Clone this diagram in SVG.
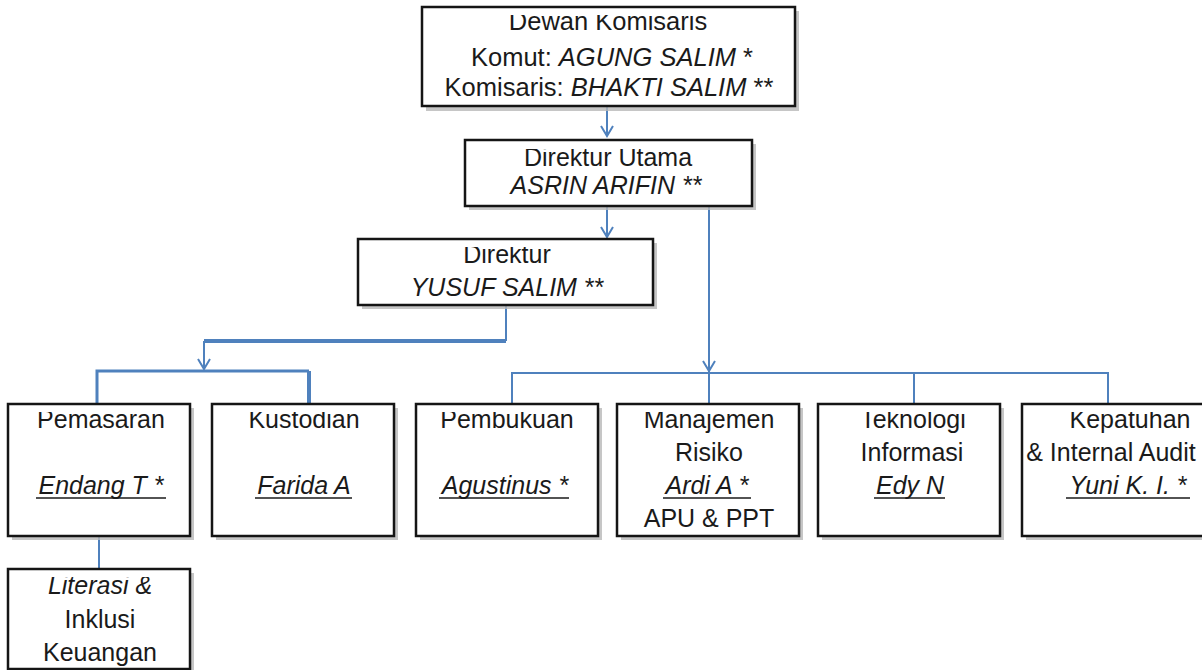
<svg xmlns="http://www.w3.org/2000/svg" width="1202" height="670" viewBox="0 0 1202 670">
<style>
  .box{fill:#fff;stroke:#151515;stroke-width:2.5}
  .sh{fill:#b8b8b8;opacity:.8}
  text{font-family:"Liberation Sans",Arial,sans-serif;fill:#1a1a1a;text-anchor:middle}
  .t25{font-size:25px}
  .t26{font-size:25.5px}
  .it{font-style:italic}
  .u{stroke:#1a1a1a;stroke-width:1.6}
  .c{fill:none;stroke:#4f81bd;stroke-width:2}
  .ck{fill:none;stroke:#4f81bd;stroke-width:4}
</style>
<defs>
  <marker id="ah" markerWidth="14" markerHeight="14" refX="12" refY="7" orient="auto" markerUnits="userSpaceOnUse" viewBox="0 0 14 14">
    <path d="M2,1 L12,7 L2,13" fill="none" stroke="#4f81bd" stroke-width="2"/>
  </marker>
  <clipPath id="cp0" clipPathUnits="userSpaceOnUse"><rect x="422" y="15" width="373" height="91"/></clipPath>
  <clipPath id="cp1" clipPathUnits="userSpaceOnUse"><rect x="465" y="149" width="287" height="57"/></clipPath>
  <clipPath id="cp2" clipPathUnits="userSpaceOnUse"><rect x="358" y="247" width="295" height="58"/></clipPath>
  <clipPath id="cpb" clipPathUnits="userSpaceOnUse"><rect x="0" y="412" width="1202" height="124"/></clipPath>
  <clipPath id="cpk" clipPathUnits="userSpaceOnUse"><rect x="1025" y="412" width="180" height="124"/></clipPath>
  <clipPath id="cpl" clipPathUnits="userSpaceOnUse"><rect x="8" y="577" width="182" height="93"/></clipPath>
</defs>

<g id="connectors">
  <line class="c" x1="607" y1="106" x2="607" y2="136" marker-end="url(#ah)"/>
  <line class="c" x1="607" y1="206" x2="607" y2="237" marker-end="url(#ah)"/>
  <line class="c" x1="709" y1="206" x2="709" y2="371" marker-end="url(#ah)"/>
  <polyline class="c" points="506,305 506,341"/>
  <polyline class="ck" points="506,341 204,341"/>
  <line class="c" x1="204" y1="341" x2="204" y2="369" marker-end="url(#ah)"/>
  <polyline class="c" style="stroke-width:3" points="97,404 97,371 309,371"/>
  <polyline class="ck" points="309,371 309,404"/>
  <polyline class="c" points="512,404 512,373 1108,373 1108,404"/>
  <line class="c" x1="709" y1="371" x2="709" y2="404"/>
  <line class="c" x1="914" y1="373" x2="914" y2="404"/>
  <line class="c" x1="99" y1="536" x2="99" y2="569"/>
</g>

<g id="dewan-komisaris">
  <rect class="sh" x="426" y="11" width="373" height="100"/>
  <rect class="box" x="422" y="7" width="373" height="99"/>
  <g clip-path="url(#cp0)">
    <text class="t26" x="608" y="30">Dewan Komisaris</text>
    <text class="t26" x="612" y="66">Komut: <tspan class="it">AGUNG SALIM</tspan> *</text>
    <text class="t26" x="609" y="96">Komisaris: <tspan class="it">BHAKTI SALIM</tspan> **</text>
  </g>
</g>

<g id="direktur-utama">
  <rect class="sh" x="469" y="144" width="287" height="66"/>
  <rect class="box" x="465" y="140" width="287" height="66"/>
  <g clip-path="url(#cp1)">
    <text class="t25" x="608" y="166">Direktur Utama</text>
    <text class="t25 it" x="606" y="194">ASRIN ARIFIN **</text>
  </g>
</g>

<g id="direktur">
  <rect class="sh" x="362" y="243" width="295" height="66"/>
  <rect class="box" x="358" y="239" width="295" height="66"/>
  <g clip-path="url(#cp2)">
    <text class="t25" x="507" y="263">Direktur</text>
    <text class="t25 it" x="507" y="296">YUSUF SALIM **</text>
  </g>
</g>

<g id="pemasaran">
  <rect class="sh" x="12" y="408" width="182" height="132"/>
  <rect class="box" x="8" y="404" width="182" height="132"/>
  <g clip-path="url(#cpb)">
    <text class="t25" x="101" y="428">Pemasaran</text>
    <text class="t25 it" x="101" y="494">Endang T *</text>
  </g>
  <line class="u" x1="36" y1="498" x2="166" y2="498"/>
</g>

<g id="kustodian">
  <rect class="sh" x="216" y="408" width="182" height="132"/>
  <rect class="box" x="212" y="404" width="182" height="132"/>
  <g clip-path="url(#cpb)">
    <text class="t25" x="304" y="428">Kustodian</text>
    <text class="t25 it" x="304" y="494">Farida A</text>
  </g>
  <line class="u" x1="255" y1="498" x2="352" y2="498"/>
</g>

<g id="pembukuan">
  <rect class="sh" x="420" y="408" width="182" height="132"/>
  <rect class="box" x="416" y="404" width="182" height="132"/>
  <g clip-path="url(#cpb)">
    <text class="t25" x="507" y="428">Pembukuan</text>
    <text class="t25 it" x="505" y="494">Agustinus *</text>
  </g>
  <line class="u" x1="439" y1="498" x2="569" y2="498"/>
</g>

<g id="manajemen-risiko">
  <rect class="sh" x="621" y="408" width="182" height="132"/>
  <rect class="box" x="617" y="404" width="182" height="132"/>
  <g clip-path="url(#cpb)">
    <text class="t25" x="709" y="428">Manajemen</text>
    <text class="t25" x="709" y="461">Risiko</text>
    <text class="t25 it" x="707" y="494">Ardi A *</text>
    <text class="t25" x="709" y="527">APU &amp; PPT</text>
  </g>
  <line class="u" x1="663" y1="498" x2="751" y2="498"/>
</g>

<g id="teknologi-informasi">
  <rect class="sh" x="822" y="408" width="182" height="132"/>
  <rect class="box" x="818" y="404" width="182" height="132"/>
  <g clip-path="url(#cpb)">
    <text class="t25" x="913" y="428">Teknologi</text>
    <text class="t25" x="912" y="461">Informasi</text>
    <text class="t25 it" x="910" y="494">Edy N</text>
  </g>
  <line class="u" x1="874" y1="498" x2="945" y2="498"/>
</g>

<g id="kepatuhan">
  <rect class="sh" x="1026" y="408" width="182" height="132"/>
  <rect class="box" x="1022" y="404" width="182" height="132"/>
  <g clip-path="url(#cpk)">
    <text class="t25" x="1130" y="428">Kepatuhan</text>
    <text class="t25" x="1111" y="461">&amp; Internal Audit</text>
    <text class="t25 it" x="1128" y="494">Yuni K. I. *</text>
  </g>
  <line class="u" x1="1066" y1="498" x2="1190" y2="498"/>
</g>

<g id="literasi">
  <rect class="sh" x="12" y="573" width="182" height="100"/>
  <rect class="box" x="8" y="569" width="182" height="100"/>
  <g clip-path="url(#cpl)">
    <text class="t25 it" x="100" y="594">Literasi &amp;</text>
    <text class="t25" x="100" y="628">Inklusi</text>
    <text class="t25" x="100" y="661">Keuangan</text>
  </g>
</g>
</svg>
